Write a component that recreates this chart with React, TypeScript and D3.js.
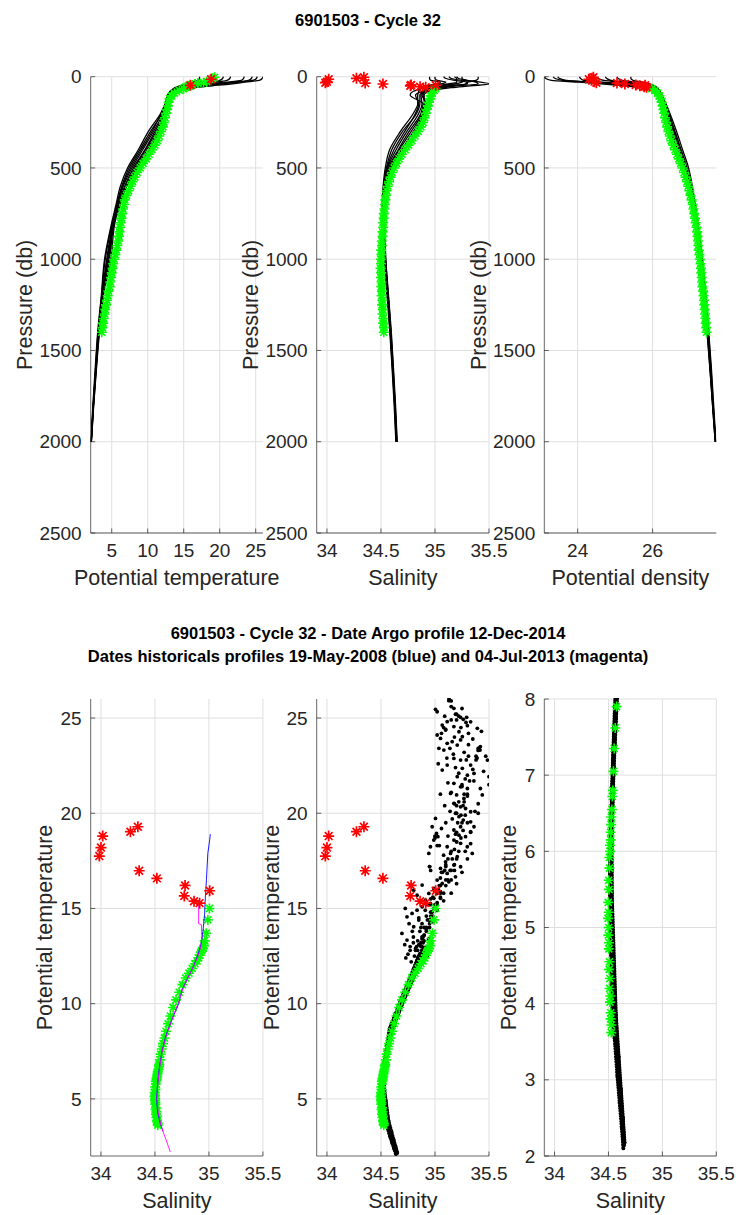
import React from "react";
import * as d3 from "d3";

// ---------------- DATA ----------------
// Historical profiles (black lines in top panels, black dots in T-S panels)
const HIST_P = [0, 10, 20, 30, 40, 50, 60, 80, 100, 150, 200, 300, 400, 500, 600, 700, 800, 1000, 1200, 1400, 1600, 1800, 2000];
const HIST_T = [
  [26.0, 25.9, 25.5, 23.5, 21.5, 19.0, 16.5, 14.2, 13.3, 12.9, 12.4, 11.2, 9.7, 8.2, 6.9, 6.0, 5.3, 4.6, 3.75, 3.2, 2.8, 2.45, 2.15],
  [24.5, 24.4, 24.0, 22.0, 19.5, 17.0, 15.3, 13.8, 13.1, 12.6, 12.0, 10.4, 8.9, 7.4, 6.4, 5.7, 5.1, 4.1, 3.6, 3.1, 2.75, 2.42, 2.13],
  [23.4, 23.3, 23.0, 21.0, 18.0, 16.2, 14.8, 13.6, 13.0, 13.0, 12.5, 11.6, 10.2, 8.6, 7.1, 6.2, 5.45, 4.9, 3.85, 3.3, 2.88, 2.5, 2.18],
  [20.5, 20.4, 20.0, 18.5, 16.5, 15.2, 14.4, 13.4, 12.9, 12.5, 11.9, 10.6, 9.1, 7.6, 6.5, 5.8, 5.2, 4.3, 3.65, 3.15, 2.78, 2.44, 2.14],
  [18.8, 18.7, 18.3, 17.2, 15.8, 14.8, 14.0, 13.2, 12.8, 12.7, 12.3, 11.0, 9.6, 8.0, 6.8, 6.0, 5.3, 4.5, 3.75, 3.22, 2.82, 2.46, 2.16],
  [17.2, 17.2, 17.0, 16.2, 15.2, 14.4, 13.8, 13.1, 12.8, 12.4, 11.8, 10.1, 8.7, 7.2, 6.2, 5.6, 5.0, 4.0, 3.55, 3.05, 2.7, 2.38, 2.1],
  [21.5, 21.4, 21.0, 19.5, 17.0, 15.6, 14.6, 13.5, 13.0, 12.8, 12.2, 10.8, 9.3, 7.8, 6.6, 5.9, 5.25, 4.4, 3.7, 3.18, 2.8, 2.45, 2.15],
  [25.2, 25.1, 24.6, 22.8, 20.0, 17.6, 15.8, 14.0, 13.2, 12.8, 12.3, 11.4, 9.9, 8.4, 7.0, 6.1, 5.35, 4.7, 3.8, 3.25, 2.85, 2.48, 2.17],
];
const HIST_S = [
  [35.13, 35.15, 35.25, 35.42, 35.5, 35.33, 35.15, 34.95, 34.9, 34.9, 34.88, 34.78, 34.67, 34.58, 34.54, 34.525, 34.528, 34.54, 34.565, 34.59, 34.61, 34.63, 34.645],
  [35.08, 35.1, 35.18, 35.3, 35.3, 35.15, 35.02, 34.92, 34.86, 34.86, 34.83, 34.7, 34.6, 34.55, 34.525, 34.515, 34.52, 34.535, 34.56, 34.585, 34.606, 34.626, 34.64],
  [35.4, 35.4, 35.38, 35.3, 35.28, 35.1, 34.97, 34.9, 34.88, 34.92, 34.9, 34.82, 34.71, 34.6, 34.55, 34.53, 34.532, 34.545, 34.57, 34.596, 34.616, 34.635, 34.65],
  [35.18, 35.2, 35.2, 35.2, 35.12, 35.02, 34.95, 34.88, 34.82, 34.85, 34.82, 34.72, 34.62, 34.555, 34.53, 34.52, 34.524, 34.538, 34.563, 34.588, 34.608, 34.628, 34.643],
  [35.0, 35.0, 35.02, 35.1, 35.05, 34.96, 34.9, 34.8, 34.77, 34.89, 34.87, 34.76, 34.66, 34.57, 34.535, 34.522, 34.526, 34.54, 34.566, 34.59, 34.611, 34.63, 34.646],
  [34.95, 34.95, 34.96, 35.05, 35.0, 34.93, 34.86, 34.85, 34.84, 34.84, 34.8, 34.68, 34.58, 34.54, 34.52, 34.512, 34.518, 34.532, 34.556, 34.582, 34.603, 34.622, 34.638],
  [35.25, 35.25, 35.27, 35.25, 35.18, 35.05, 34.96, 34.88, 34.87, 34.88, 34.85, 34.74, 34.64, 34.56, 34.53, 34.518, 34.522, 34.537, 34.562, 34.587, 34.609, 34.629, 34.644],
  [35.2, 35.22, 35.3, 35.38, 35.4, 35.2, 35.08, 34.92, 34.89, 34.91, 34.89, 34.8, 34.69, 34.59, 34.545, 34.528, 34.53, 34.543, 34.568, 34.593, 34.613, 34.632, 34.648],
];
const HIST_D = [
  [23.12, 23.15, 23.3, 24.05, 24.7, 25.25, 25.74, 26.1, 26.22, 26.28, 26.36, 26.48, 26.64, 26.82, 26.96, 27.07, 27.15, 27.27, 27.38, 27.47, 27.54, 27.61, 27.68],
  [23.47, 23.52, 23.7, 24.4, 25.1, 25.62, 25.92, 26.14, 26.23, 26.32, 26.42, 26.6, 26.76, 26.92, 27.03, 27.12, 27.19, 27.31, 27.41, 27.49, 27.56, 27.62, 27.68],
  [24.05, 24.08, 24.16, 24.69, 25.47, 25.78, 25.99, 26.16, 26.23, 26.25, 26.33, 26.44, 26.58, 26.76, 26.93, 27.04, 27.13, 27.25, 27.36, 27.45, 27.53, 27.6, 27.67],
  [24.74, 24.78, 24.89, 25.28, 25.72, 25.95, 26.06, 26.18, 26.22, 26.34, 26.44, 26.58, 26.74, 26.9, 27.02, 27.1, 27.17, 27.29, 27.39, 27.48, 27.55, 27.61, 27.68],
  [25.05, 25.08, 25.2, 25.54, 25.83, 25.98, 26.11, 26.19, 26.23, 26.29, 26.37, 26.52, 26.66, 26.84, 26.97, 27.07, 27.15, 27.27, 27.38, 27.47, 27.54, 27.61, 27.68],
  [25.42, 25.42, 25.48, 25.74, 25.93, 26.05, 26.12, 26.2, 26.25, 26.36, 26.46, 26.64, 26.8, 26.96, 27.06, 27.14, 27.21, 27.33, 27.42, 27.5, 27.57, 27.63, 27.69],
  [24.5, 24.55, 24.7, 25.2, 25.75, 25.95, 26.07, 26.18, 26.22, 26.31, 26.4, 26.56, 26.71, 26.88, 27.0, 27.09, 27.16, 27.28, 27.39, 27.48, 27.55, 27.61, 27.68],
  [23.35, 23.4, 23.6, 24.3, 25.05, 25.55, 25.88, 26.14, 26.24, 26.27, 26.35, 26.46, 26.61, 26.79, 26.95, 27.06, 27.14, 27.26, 27.37, 27.46, 27.53, 27.6, 27.67],
];

// Extra historical T-S points (upper, scattered part of the cloud)
const CLOUD_S = [35.005, 35.02, 35.128, 35.15, 35.175, 35.237, 35.262, 35.293, 35.287, 35.392, 35.113, 35.067, 35.098, 35.175, 35.222, 35.253, 35.02, 35.051, 35.113, 35.159, 35.206, 35.237, 35.036, 35.082, 35.138, 35.407, 35.417, 35.175, 35.237, 35.33, 35.253, 35.067, 35.113, 35.485, 35.5, 35.361, 35.438, 35.206, 35.175, 35.237, 35.144, 35.2, 35.268, 35.175, 35.237, 35.283, 35.33, 35.19, 35.222, 35.262, 35.33, 35.361, 35.237, 35.175, 35.222, 35.283, 35.33, 35.175, 35.237, 35.299, 35.345, 35.113, 35.144, 35.206, 35.098, 35.175, 35.237, 35.051, 35.113, 35.19, 35.02, 35.067, 35.128, 34.989, 35.051, 34.943, 34.989, 35.051, 34.912, 34.881, 34.958, 35.02, 34.943, 34.974, 35.014, 34.958, 34.989, 35.005, 35.027, 34.881, 34.803, 34.834, 34.725, 34.741, 34.788, 34.834, 34.803, 34.85, 34.694, 34.741, 34.72, 34.75, 34.78, 34.8, 34.83, 34.86, 34.88, 34.9, 34.92, 34.95, 34.97, 34.93, 34.85, 34.76, 34.79, 34.82, 34.9, 34.94, 34.98, 34.87, 34.91, 34.96, 34.99, 35.04, 35.09, 35.15, 35.19, 35.21, 35.27, 35.3, 35.16, 35.12, 35.08, 35.06, 35.31, 35.35, 35.2, 35.31, 35.36, 35.4, 35.45, 35.39,
  34.96, 34.98, 35.0, 35.03, 35.05, 35.07, 35.1, 35.12, 35.1, 35.14, 35.16, 35.18, 35.2, 35.18, 35.22, 35.24, 35.26, 35.2, 35.24, 35.28, 35.26, 35.3, 35.22, 35.32, 35.28, 35.35, 35.22, 35.27, 35.17, 35.31, 35.24, 35.15, 35.33, 35.19, 35.09, 35.06, 35.43, 35.47, 35.37, 35.42, 35.29, 35.12, 35.09, 35.14, 35.06, 35.04, 35.1, 35.15, 35.19, 35.11, 35.03, 35.05, 35.33, 35.3, 35.25, 35.2, 35.15, 35.08, 35.02, 34.98, 34.95, 34.92, 34.89, 34.87, 34.84, 34.81, 34.77, 34.73, 34.93, 34.96];
const CLOUD_T = [25.46, 25.33, 25.91, 25.6, 25.51, 25.04, 24.93, 25.04, 24.77, 24.46, 24.81, 24.63, 24.37, 24.55, 24.28, 24.02, 24.11, 23.93, 23.67, 23.76, 23.58, 23.85, 23.41, 23.32, 23.41, 23.41, 23.32, 22.88, 22.79, 22.53, 22.36, 22.27, 22.53, 22.79, 21.92, 22.09, 20.96, 21.92, 21.57, 21.39, 21.04, 20.96, 20.78, 20.52, 20.34, 20.25, 20.08, 20.0, 19.82, 19.64, 19.55, 19.29, 19.29, 19.12, 18.85, 18.77, 19.03, 18.59, 18.42, 18.24, 17.89, 18.24, 17.89, 17.72, 17.45, 17.28, 17.19, 17.1, 16.84, 16.66, 16.49, 16.31, 16.4, 16.05, 15.88, 15.79, 15.53, 15.53, 15.44, 15.09, 15.26, 15.79, 17.89, 19.29, 18.94, 18.24, 18.59, 19.73, 18.77, 16.23, 15.96, 15.7, 15.0, 14.56, 14.74, 14.91, 14.04, 14.39, 13.69, 13.34, 13.1, 12.6, 12.2, 13.5, 13.0, 12.6, 14.2, 13.6, 14.6, 14.0, 14.8, 15.2, 14.5, 14.2, 13.8, 12.8, 12.9, 13.4, 14.3, 13.2, 14.9, 15.5, 15.0, 16.2, 17.0, 18.0, 18.9, 19.5, 20.6, 21.3, 19.7, 18.8, 17.8, 16.9, 23.0, 23.9, 24.9, 24.2, 21.7, 20.5, 22.2, 22.9,
  15.2, 15.6, 15.9, 16.0, 16.6, 16.9, 17.3, 17.6, 16.5, 17.0, 17.6, 18.1, 18.5, 17.3, 18.0, 18.7, 19.1, 19.0, 19.9, 19.9, 20.4, 20.9, 20.6, 21.7, 21.8, 22.3, 22.1, 23.2, 23.1, 23.6, 24.5, 24.9, 24.8, 25.2, 25.1, 24.2, 24.3, 23.0, 20.1, 21.3, 22.8, 21.6, 20.4, 20.1, 19.2, 18.3, 19.5, 21.1, 22.4, 22.9, 22.6, 21.0, 18.4, 17.6, 16.9, 16.3, 15.8, 15.4, 14.9, 14.6, 14.4, 13.9, 13.5, 14.0, 13.3, 12.5, 13.0, 12.4, 12.5, 13.1];

// Argo profile, cycle 32 (first 12 levels are the flagged surface levels)
const ARGO_P = [3, 9, 14, 27, 33, 35, 40, 45, 47, 50, 55, 58, 65, 75, 90, 105, 120, 140, 160, 180, 200, 225, 250, 275, 300, 325, 350, 375, 400, 425, 450, 475, 500, 525, 550, 575, 600, 625, 650, 675, 700, 725, 750, 775, 800, 825, 850, 875, 900, 925, 950, 975, 1000, 1025, 1050, 1075, 1100, 1125, 1150, 1175, 1200, 1225, 1250, 1275, 1300, 1325, 1350, 1375, 1400];
const ARGO_T = [19.29, 19.03, 18.8, 18.2, 17.75, 16.98, 16.58, 16.21, 15.93, 15.66, 15.38, 15.28, 15.0, 14.4, 13.7, 13.3, 13.05, 12.9, 12.8, 12.7, 12.55, 12.4, 12.25, 12.1, 11.85, 11.6, 11.35, 11.0, 10.6, 10.2, 9.8, 9.35, 8.95, 8.55, 8.2, 7.9, 7.62, 7.35, 7.05, 6.8, 6.72, 6.55, 6.45, 6.35, 6.25, 6.15, 6.08, 6.0, 5.92, 5.78, 5.62, 5.5, 5.33, 5.2, 5.12, 5.0, 4.9, 4.8, 4.72, 4.55, 4.45, 4.33, 4.2, 4.1, 4.02, 3.88, 3.8, 3.72, 3.62];
const ARGO_S = [34.342, 34.273, 34.016, 34.0, 33.985, 34.354, 34.518, 34.779, 35.007, 34.772, 34.862, 34.914, 35.005, 34.99, 34.975, 34.96, 34.955, 34.945, 34.935, 34.925, 34.915, 34.905, 34.89, 34.87, 34.845, 34.815, 34.785, 34.755, 34.725, 34.695, 34.668, 34.643, 34.622, 34.603, 34.588, 34.575, 34.563, 34.553, 34.546, 34.54, 34.536, 34.532, 34.526, 34.525, 34.52, 34.521, 34.514, 34.515, 34.508, 34.509, 34.502, 34.505, 34.498, 34.501, 34.496, 34.502, 34.499, 34.505, 34.503, 34.509, 34.506, 34.513, 34.51, 34.517, 34.514, 34.521, 34.52, 34.527, 34.526];
const ARGO_D = [24.42, 24.38, 24.3, 24.45, 24.5, 25.05, 25.26, 25.55, 25.8, 25.66, 25.78, 25.84, 25.98, 26.06, 26.13, 26.18, 26.21, 26.24, 26.27, 26.29, 26.31, 26.33, 26.36, 26.39, 26.42, 26.46, 26.5, 26.55, 26.6, 26.65, 26.7, 26.75, 26.8, 26.84, 26.88, 26.92, 26.95, 26.98, 27.01, 27.04, 27.07, 27.09, 27.11, 27.13, 27.15, 27.17, 27.19, 27.2, 27.21, 27.22, 27.23, 27.25, 27.26, 27.28, 27.29, 27.3, 27.31, 27.32, 27.33, 27.35, 27.36, 27.37, 27.38, 27.39, 27.4, 27.41, 27.42, 27.43, 27.44];
const FLAGGED_COUNT = 12;          // surface levels flagged in salinity / density / T-S
const FLAGGED_TEMP = [2, 8];       // levels flagged in temperature

// Historical reference profiles in T-S
const BLUE_S = [35.013, 35.007, 34.99, 34.977, 34.967, 34.96, 34.951, 34.945, 34.93, 34.9, 34.86, 34.8, 34.75, 34.72, 34.66, 34.6, 34.565, 34.54, 34.525, 34.515, 34.525, 34.55, 34.575];
const BLUE_T = [18.9, 18.6, 17.9, 16.5, 15.6, 14.7, 14.2, 13.8, 13.2, 12.6, 12.0, 11.3, 10.7, 10.0, 9.2, 8.3, 7.5, 6.6, 5.8, 5.0, 4.3, 3.7, 3.3];
const MAG_S = [34.905, 34.905, 34.93, 34.935, 34.925, 34.9, 34.86, 34.81, 34.76, 34.72, 34.665, 34.61, 34.57, 34.545, 34.528, 34.518, 34.53, 34.556, 34.58, 34.6, 34.625, 34.642];
const MAG_T = [15.45, 14.2, 14.15, 13.5, 13.0, 12.5, 12.0, 11.4, 10.8, 10.1, 9.3, 8.4, 7.6, 6.7, 5.9, 5.0, 4.3, 3.6, 3.2, 2.9, 2.5, 2.21];

// Axes
const TEMP_DOMAIN = [2.08, 26.0];
const SAL_DOMAIN = [33.905, 35.5];
const DENS_DOMAIN = [23.11, 27.7];
const PRES_DOMAIN = [0, 2500];
const TS_T_DOMAIN = [2, 26];
const ZOOM_T_DOMAIN = [2, 8];
const TEMP_TICKS = [5, 10, 15, 20, 25];
const SAL_TICKS = [34, 34.5, 35, 35.5];
const DENS_TICKS = [24, 26];
const PRES_TICKS = [0, 500, 1000, 1500, 2000, 2500];
const TS_T_TICKS = [5, 10, 15, 20, 25];
const ZOOM_T_TICKS = [2, 3, 4, 5, 6, 7, 8];

const TITLE_TOP = "6901503 - Cycle 32";
const TITLE_BOT_1 = "6901503 - Cycle 32 - Date Argo profile 12-Dec-2014";
const TITLE_BOT_2 = "Dates historicals profiles 19-May-2008 (blue) and 04-Jul-2013 (magenta)";

// ---------------- LAYOUT ----------------
const W = 736;
const H = 1215;
const COLS = [
  { x0: 90.7, x1: 262.9 },
  { x0: 316.7, x1: 489.0 },
  { x0: 544.3, x1: 716.3 },
];
const TOP = { y0: 76.7, y1: 533 };
const BOT = { y0: 699, y1: 1156 };
const FONT = "'Liberation Sans', Arial, Helvetica, sans-serif";
const TICK_FS = 19;
const LABEL_FS = 21.5;
const TITLE_FS = 16.5;
const GRID = "#dfdfdf";
const AXIS = "#262626";
const GREEN = "#00ff00";
const RED = "#ff0000";
const G_R = 5, G_W = 1.6, R_R = 5.5, R_W = 1.7;

const starPath = (r: number) => {
  const a = r * 0.7071;
  return `M${-r},0H${r}M0,${-r}V${r}M${-a},${-a}L${a},${a}M${-a},${a}L${a},${-a}`;
};

type FrameProps = {
  id: string;
  x0: number; x1: number; y0: number; y1: number;
  xs: d3.ScaleLinear<number, number>;
  ys: d3.ScaleLinear<number, number>;
  xTicks: number[]; yTicks: number[];
  xLabel: string; yLabel: string; yLabelOff: number;
  children?: React.ReactNode;
};

function Frame({ id, x0, x1, y0, y1, xs, ys, xTicks, yTicks, xLabel, yLabel, yLabelOff, children }: FrameProps) {
  const tl = 4.5;
  return (
    <g>
      <defs>
        <clipPath id={id}>
          <rect x={x0} y={y0 - 1} width={x1 - x0} height={y1 - y0 + 1} />
        </clipPath>
      </defs>
      {xTicks.map((t) => (
        <line key={"gx" + t} x1={xs(t)} x2={xs(t)} y1={y0} y2={y1} stroke={GRID} strokeWidth={1} />
      ))}
      {yTicks.map((t) => (
        <line key={"gy" + t} x1={x0} x2={x1} y1={ys(t)} y2={ys(t)} stroke={GRID} strokeWidth={1} />
      ))}
      <line x1={x0} x2={x0} y1={y0} y2={y1} stroke={AXIS} strokeWidth={0.7} />
      <line x1={x0} x2={x1} y1={y1} y2={y1} stroke={AXIS} strokeWidth={0.7} />
      {xTicks.map((t) => (
        <line key={"tx" + t} x1={xs(t)} x2={xs(t)} y1={y1} y2={y1 - tl} stroke={AXIS} strokeWidth={0.7} />
      ))}
      {yTicks.map((t) => (
        <line key={"ty" + t} x1={x0} x2={x0 + tl} y1={ys(t)} y2={ys(t)} stroke={AXIS} strokeWidth={0.7} />
      ))}
      {children}
      {xTicks.map((t) => (
        <text key={"lx" + t} x={xs(t)} y={y1 + 24} textAnchor="middle" fontSize={TICK_FS} fill={AXIS}>
          {String(t)}
        </text>
      ))}
      {yTicks.map((t) => (
        <text key={"ly" + t} x={x0 - 9} y={ys(t) + TICK_FS * 0.35} textAnchor="end" fontSize={TICK_FS} fill={AXIS}>
          {String(t)}
        </text>
      ))}
      <text x={(x0 + x1) / 2} y={y1 + 52} textAnchor="middle" fontSize={LABEL_FS} fill={AXIS}>
        {xLabel}
      </text>
      <text
        transform={`translate(${x0 - yLabelOff},${(y0 + y1) / 2}) rotate(-90)`}
        y={LABEL_FS * 0.35}
        textAnchor="middle"
        fontSize={LABEL_FS}
        fill={AXIS}
      >
        {yLabel}
      </text>
    </g>
  );
}

function Stars({ xs, ys, color, r, sw }: { xs: number[]; ys: number[]; color: string; r: number; sw: number }) {
  const d = starPath(r);
  return (
    <g stroke={color} strokeWidth={sw} fill="none">
      {xs.map((x, i) => (
        <path key={i} d={d} transform={`translate(${x},${ys[i]})`} />
      ))}
    </g>
  );
}

export default function App() {
  const yP = d3.scaleLinear().domain(PRES_DOMAIN).range([TOP.y0, TOP.y1]);
  const xT = d3.scaleLinear().domain(TEMP_DOMAIN).range([COLS[0].x0, COLS[0].x1]);
  const xSt = d3.scaleLinear().domain(SAL_DOMAIN).range([COLS[1].x0, COLS[1].x1]);
  const xD = d3.scaleLinear().domain(DENS_DOMAIN).range([COLS[2].x0, COLS[2].x1]);
  const xSb = COLS.map((c) => d3.scaleLinear().domain(SAL_DOMAIN).range([c.x0, c.x1]));
  const yTS = d3.scaleLinear().domain(TS_T_DOMAIN).range([BOT.y1, BOT.y0]);
  const yTZ = d3.scaleLinear().domain(ZOOM_T_DOMAIN).range([BOT.y1, BOT.y0]);

  const line = d3.line<[number, number]>();
  const curved = d3.line<[number, number]>().curve(d3.curveMonotoneY);
  const idx = ARGO_P.map((_, i) => i);
  const good = idx.filter((i) => i >= FLAGGED_COUNT);
  const bad = idx.filter((i) => i < FLAGGED_COUNT);
  const goodT = idx.filter((i) => !FLAGGED_TEMP.includes(i));

  const profLines = (vals: number[][], xs: d3.ScaleLinear<number, number>) =>
    vals.map((prof, k) => (
      <path
        key={k}
        d={curved(HIST_P.map((p, i) => [xs(prof[i]), yP(p)] as [number, number])) || ""}
        fill="none"
        stroke="#000"
        strokeWidth={1.3}
      />
    ));

  const histTS = (xs: d3.ScaleLinear<number, number>, ys: d3.ScaleLinear<number, number>, lo: number, hi: number) => {
    const dots: React.ReactNode[] = [];
    HIST_T.forEach((prof, k) => {
      prof.forEach((t, i) => {
        if (t >= lo && t <= hi) dots.push(<circle key={`h${k}-${i}`} cx={xs(HIST_S[k][i])} cy={ys(t)} r={1.9} fill="#000" />);
      });
    });
    CLOUD_T.forEach((t, i) => {
      if (t >= lo && t <= hi) dots.push(<circle key={`c${i}`} cx={xs(CLOUD_S[i])} cy={ys(t)} r={1.9} fill="#000" />);
    });
    const bands = HIST_T.map((prof, k) => {
      const pts = HIST_P.map((p, i) => ({ p, i })).filter((o) => o.p >= 150).map((o) => [xs(HIST_S[k][o.i]), ys(prof[o.i])] as [number, number]);
      return (
        <path key={`b${k}`} d={line(pts) || ""} fill="none" stroke="#000" strokeWidth={3.8} strokeLinecap="round" strokeDasharray="0 2.6" />
      );
    });
    return (
      <g>
        {bands}
        {dots}
      </g>
    );
  };

  const pick = (arr: number[], ii: number[]) => ii.map((i) => arr[i]);

  return (
    <svg
      width={W}
      height={H}
      viewBox={`0 0 ${W} ${H}`}
      style={{ position: "absolute", left: 0, top: 0, background: "#fff" }}
      fontFamily={FONT}
    >
      <rect x={0} y={0} width={W} height={H} fill="#fff" />
      <text x={368} y={26} textAnchor="middle" fontSize={TITLE_FS} fontWeight="bold" fill="#000">
        {TITLE_TOP}
      </text>

      {/* Top panel 1: temperature */}
      <Frame id="c1" {...COLS[0]} {...TOP} xs={xT} ys={yP} xTicks={TEMP_TICKS} yTicks={PRES_TICKS}
        xLabel="Potential temperature" yLabel="Pressure (db)" yLabelOff={66}>
        <g clipPath="url(#c1)">{profLines(HIST_T, xT)}</g>
        <Stars xs={pick(ARGO_T, goodT).map((v) => xT(v))} ys={pick(ARGO_P, goodT).map((v) => yP(v))} color={GREEN} r={G_R} sw={G_W} />
        <Stars xs={pick(ARGO_T, FLAGGED_TEMP).map((v) => xT(v))} ys={pick(ARGO_P, FLAGGED_TEMP).map((v) => yP(v))} color={RED} r={R_R} sw={R_W} />
      </Frame>

      {/* Top panel 2: salinity */}
      <Frame id="c2" {...COLS[1]} {...TOP} xs={xSt} ys={yP} xTicks={SAL_TICKS} yTicks={PRES_TICKS}
        xLabel="Salinity" yLabel="Pressure (db)" yLabelOff={66}>
        <g clipPath="url(#c2)">{profLines(HIST_S, xSt)}</g>
        <Stars xs={pick(ARGO_S, good).map((v) => xSt(v))} ys={pick(ARGO_P, good).map((v) => yP(v))} color={GREEN} r={G_R} sw={G_W} />
        <Stars xs={pick(ARGO_S, bad).map((v) => xSt(v))} ys={pick(ARGO_P, bad).map((v) => yP(v))} color={RED} r={R_R} sw={R_W} />
      </Frame>

      {/* Top panel 3: density */}
      <Frame id="c3" {...COLS[2]} {...TOP} xs={xD} ys={yP} xTicks={DENS_TICKS} yTicks={PRES_TICKS}
        xLabel="Potential density" yLabel="Pressure (db)" yLabelOff={66}>
        <g clipPath="url(#c3)">{profLines(HIST_D, xD)}</g>
        <Stars xs={pick(ARGO_D, good).map((v) => xD(v))} ys={pick(ARGO_P, good).map((v) => yP(v))} color={GREEN} r={G_R} sw={G_W} />
        <Stars xs={pick(ARGO_D, bad).map((v) => xD(v))} ys={pick(ARGO_P, bad).map((v) => yP(v))} color={RED} r={R_R} sw={R_W} />
      </Frame>

      <text x={368} y={639} textAnchor="middle" fontSize={TITLE_FS} fontWeight="bold" fill="#000">
        {TITLE_BOT_1}
      </text>
      <text x={368} y={662} textAnchor="middle" fontSize={TITLE_FS} fontWeight="bold" fill="#000">
        {TITLE_BOT_2}
      </text>

      {/* Bottom panel 1: T-S with reference profiles */}
      <Frame id="c4" {...COLS[0]} {...BOT} xs={xSb[0]} ys={yTS} xTicks={SAL_TICKS} yTicks={TS_T_TICKS}
        xLabel="Salinity" yLabel="Potential temperature" yLabelOff={46}>
        <Stars xs={pick(ARGO_S, good).map((v) => xSb[0](v))} ys={pick(ARGO_T, good).map((v) => yTS(v))} color={GREEN} r={G_R} sw={G_W} />
        <g clipPath="url(#c4)">
          <path d={line(BLUE_S.map((s, i) => [xSb[0](s), yTS(BLUE_T[i])] as [number, number])) || ""} fill="none" stroke="#0000ff" strokeWidth={0.9} />
          <path d={line(MAG_S.map((s, i) => [xSb[0](s), yTS(MAG_T[i])] as [number, number])) || ""} fill="none" stroke="#ff00ff" strokeWidth={0.9} />
        </g>
        <Stars xs={pick(ARGO_S, bad).map((v) => xSb[0](v))} ys={pick(ARGO_T, bad).map((v) => yTS(v))} color={RED} r={R_R} sw={R_W} />
      </Frame>

      {/* Bottom panel 2: T-S with historical points */}
      <Frame id="c5" {...COLS[1]} {...BOT} xs={xSb[1]} ys={yTS} xTicks={SAL_TICKS} yTicks={TS_T_TICKS}
        xLabel="Salinity" yLabel="Potential temperature" yLabelOff={45}>
        <g clipPath="url(#c5)">{histTS(xSb[1], yTS, 2, 26)}</g>
        <Stars xs={pick(ARGO_S, good).map((v) => xSb[1](v))} ys={pick(ARGO_T, good).map((v) => yTS(v))} color={GREEN} r={G_R} sw={G_W} />
        <Stars xs={pick(ARGO_S, bad).map((v) => xSb[1](v))} ys={pick(ARGO_T, bad).map((v) => yTS(v))} color={RED} r={R_R} sw={R_W} />
      </Frame>

      {/* Bottom panel 3: T-S zoom on deep water */}
      <Frame id="c6" {...COLS[2]} {...BOT} xs={xSb[2]} ys={yTZ} xTicks={SAL_TICKS} yTicks={ZOOM_T_TICKS}
        xLabel="Salinity" yLabel="Potential temperature" yLabelOff={36}>
        <g clipPath="url(#c6)">{histTS(xSb[2], yTZ, 2, 8)}</g>
        {(() => {
          const z = good.filter((i) => ARGO_T[i] <= 8);
          return <Stars xs={pick(ARGO_S, z).map((v) => xSb[2](v))} ys={pick(ARGO_T, z).map((v) => yTZ(v))} color={GREEN} r={G_R} sw={G_W} />;
        })()}
      </Frame>
    </svg>
  );
}
